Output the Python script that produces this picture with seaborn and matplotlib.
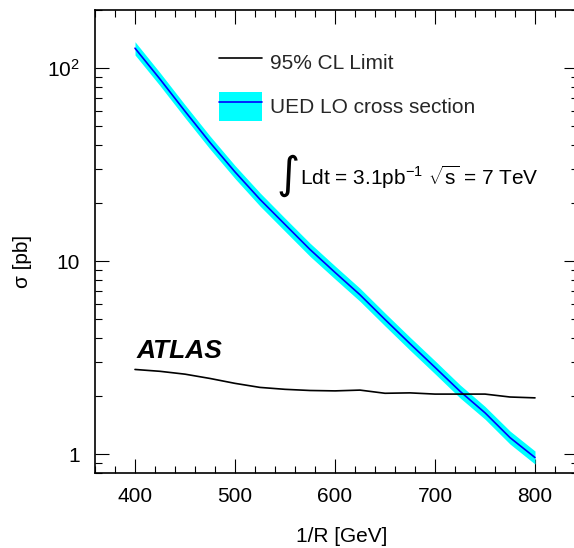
import matplotlib
matplotlib.use("Agg")
import matplotlib.pyplot as plt
import numpy as np
import pandas as pd
import seaborn as sns
from matplotlib.patches import Patch
from matplotlib.lines import Line2D
from matplotlib.legend_handler import HandlerTuple
from matplotlib.ticker import FixedLocator, LogLocator, NullFormatter

# ---- data ----
mass = [400, 425, 450, 475, 500, 525, 550, 575, 600, 625, 650, 675, 700, 725, 750, 775, 800]
ued_xsec = [126.8, 87.7, 59.8, 41.2, 29.0, 20.9, 15.5, 11.5, 8.75, 6.70, 4.99, 3.74, 2.82, 2.12, 1.64, 1.22, 0.962]
ued_hi = [137.0, 94.7, 64.6, 44.5, 31.3, 22.6, 16.7, 12.4, 9.45, 7.24, 5.39, 4.04, 3.05, 2.29, 1.77, 1.32, 1.04]
ued_lo = [117.0, 81.1, 55.3, 38.1, 26.8, 19.3, 14.3, 10.6, 8.09, 6.20, 4.62, 3.46, 2.61, 1.96, 1.52, 1.13, 0.89]
limit_95 = [2.75, 2.69, 2.60, 2.47, 2.33, 2.22, 2.17, 2.14, 2.13, 2.15, 2.07, 2.08, 2.05, 2.05, 2.05, 1.98, 1.96]

x_ticks = [400, 500, 600, 700, 800]
x_tick_labels = ["400", "500", "600", "700", "800"]
y_ticks = [1, 10, 100]
y_tick_labels = ["1", "10", "$10^{2}$"]
legend_labels = ["95% CL Limit", "UED LO cross section"]

sns.set_theme(style="ticks")
plt.rcParams["font.family"] = ["Liberation Sans", "DejaVu Sans"]
plt.rcParams["mathtext.fontset"] = "custom"
plt.rcParams["mathtext.rm"] = "Liberation Sans"
plt.rcParams["mathtext.it"] = "Liberation Sans:italic"
plt.rcParams["mathtext.bf"] = "Liberation Sans:bold"

W, H = 574, 548
fig = plt.figure(figsize=(W / 100, H / 100), dpi=100)
fig.patch.set_facecolor("white")
ax = fig.add_axes([95 / W, 75 / H, 483 / W, 463 / H])
ax.set_facecolor("white")

df = pd.DataFrame({"mass": mass, "ued": ued_xsec, "limit": limit_95})

ax.fill_between(mass, ued_lo, ued_hi, color="#00ffff", lw=0, zorder=1)
sns.lineplot(data=df, x="mass", y="ued", color="#0000ff", lw=1.2, ax=ax, zorder=2)
sns.lineplot(data=df, x="mass", y="limit", color="black", lw=1.2, ax=ax, zorder=3)

ax.set_yscale("log")
ax.set_xlim(360, 843)
ax.set_ylim(0.8, 200)

ax.set_xticks(x_ticks, x_tick_labels)
ax.xaxis.set_minor_locator(FixedLocator(np.arange(360, 841, 20)))
ax.set_yticks(y_ticks, y_tick_labels)
ax.yaxis.set_minor_locator(LogLocator(base=10, subs=np.arange(2, 10)))
ax.yaxis.set_minor_formatter(NullFormatter())

ax.tick_params(which="both", direction="in", top=True, right=True, color="black", width=0.8)
ax.tick_params(which="major", length=10, labelsize=15, labelcolor="black")
ax.tick_params(which="minor", length=5)
ax.tick_params(axis="x", which="major", pad=10)
ax.tick_params(axis="y", which="major", pad=11)
for s in ax.spines.values():
    s.set_color("black")
    s.set_linewidth(1.2)

ax.set_xlabel("1/R [GeV]", fontsize=15, color="black")
ax.set_ylabel("σ [pb]", fontsize=15, color="black")
ax.xaxis.set_label_coords(0.511, -0.1166)
ax.yaxis.set_label_coords(-0.1305, 0.456)

handles = [
    Line2D([], [], color="black", lw=1.2),
    (Patch(facecolor="#00ffff", edgecolor="none"), Line2D([], [], color="#0000ff", lw=1.2)),
]
ax.legend(handles, legend_labels, handler_map={tuple: HandlerTuple(ndivide=1, pad=0)},
          loc="upper left", bbox_to_anchor=(124 / 483, 0.9190), frameon=False, fontsize=15,
          handlelength=2.07, handleheight=1.8, handletextpad=0.38, labelspacing=0.70,
          borderpad=0, borderaxespad=0)

ax.text((300 - 95) / 483, 0.6436, "∫", transform=ax.transAxes, fontsize=32, va="center", ha="right",
        family=["DejaVu Sans"], color="black")
ax.text((300 - 95) / 483, 0.622, r"Ldt = 3.1pb$^{-1}$ $\sqrt{\mathrm{s}}$ = 7 TeV", transform=ax.transAxes,
        fontsize=15, va="baseline", ha="left", color="black")
ax.text((137 - 95) / 483, 0.2484, "ATLAS", transform=ax.transAxes, fontsize=19, fontweight="bold",
        fontstyle="italic", va="baseline", ha="left", color="black")

fig.savefig("out.png", dpi=100)
